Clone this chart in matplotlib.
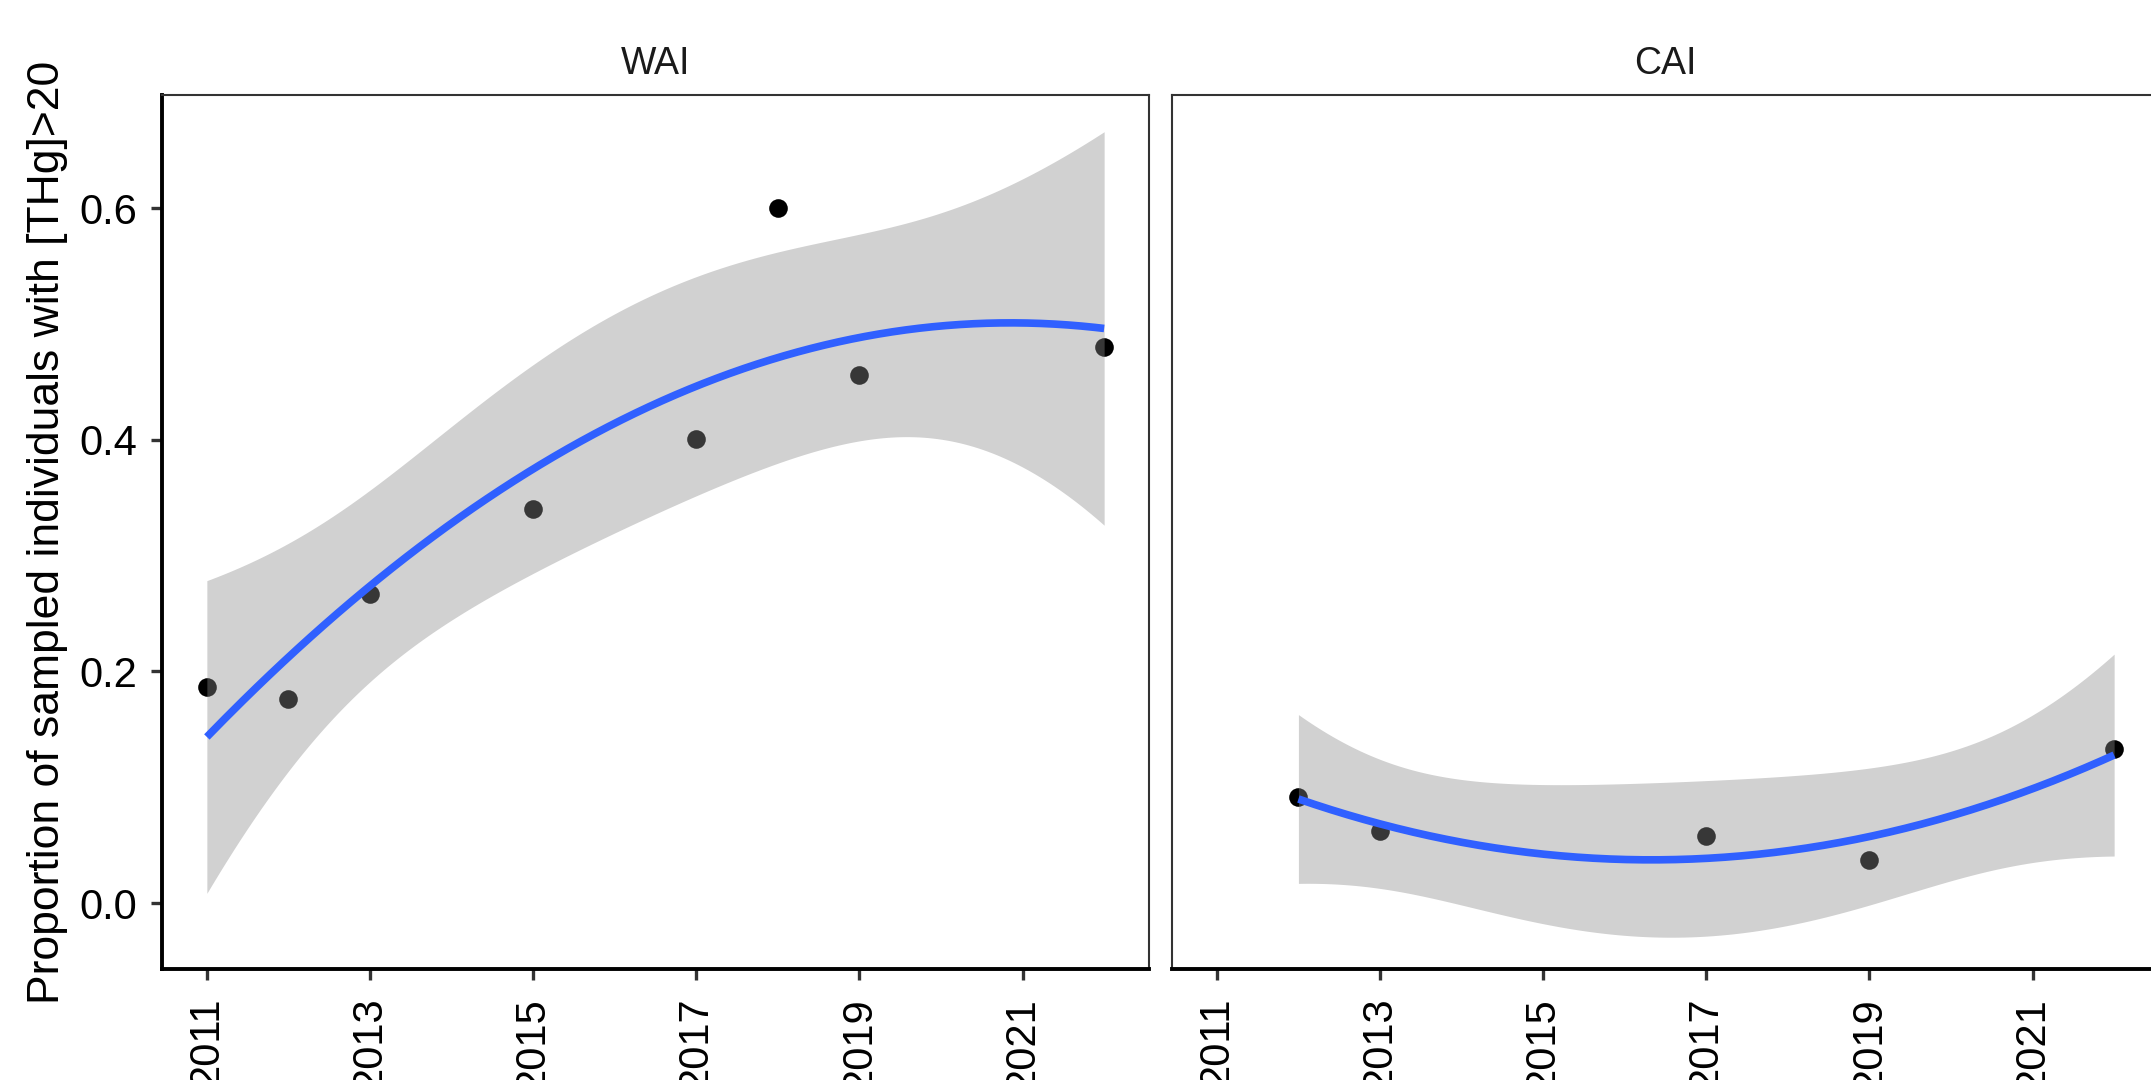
"""Proportion of sampled individuals with [THg]>20 by year, WAI vs CAI panels,
with a quadratic lm smoother and 95% band (as ggplot geom_smooth(method='lm', formula=y~poly(x,2)))."""

import numpy as np
import matplotlib
matplotlib.use("Agg")
import matplotlib.pyplot as plt

# data
wai_years = [2011, 2012, 2013, 2015, 2017, 2018, 2019, 2022]
wai_prop = [0.187, 0.176, 0.267, 0.340, 0.401, 0.600, 0.456, 0.480]

cai_years = [2012, 2013, 2017, 2019, 2022]
cai_prop = [0.092, 0.062, 0.058, 0.037, 0.133]

panel_titles = ["WAI", "CAI"]
xticks = [2011, 2013, 2015, 2017, 2019, 2021]
yticks = [0.0, 0.2, 0.4, 0.6]
ylabel = "Proportion of sampled individuals with [THg]>20"

# two-sided 95% t quantiles for residual df = n - 3
T975 = {2: 4.3027, 5: 2.5706}

SMOOTH = "#3060FF"
BAND = "#8c8c8c"

plt.rcParams["font.family"] = ["Liberation Sans", "DejaVu Sans"]


def quad_fit(x, y, n_grid=200):
    x = np.asarray(x, dtype=float)
    y = np.asarray(y, dtype=float)
    c = x.mean()
    X = np.column_stack([np.ones_like(x), x - c, (x - c) ** 2])
    beta, *_ = np.linalg.lstsq(X, y, rcond=None)
    df = len(x) - 3
    s2 = np.sum((y - X @ beta) ** 2) / df
    xtx_inv = np.linalg.inv(X.T @ X)
    xg = np.linspace(x.min(), x.max(), n_grid)
    G = np.column_stack([np.ones_like(xg), xg - c, (xg - c) ** 2])
    fit = G @ beta
    se = np.sqrt(s2 * np.einsum("ij,jk,ik->i", G, xtx_inv, G))
    t = T975[df]
    return xg, fit, fit - t * se, fit + t * se


W, H = 2151, 1080
fig = plt.figure(figsize=(W / 100, H / 100), dpi=100)

panel_w = 987 / W
bottom = (H - 969) / H
height = 874 / H
ax_l = fig.add_axes([162 / W, bottom, panel_w, height])
ax_r = fig.add_axes([1172 / W, bottom, panel_w, height])

for ax, title, yrs, vals in [(ax_l, panel_titles[0], wai_years, wai_prop),
                             (ax_r, panel_titles[1], cai_years, cai_prop)]:
    ax.scatter(yrs, vals, s=180, color="black", linewidths=0, zorder=2)
    xg, fit, lo, hi = quad_fit(yrs, vals)
    ax.fill_between(xg, lo, hi, color=BAND, alpha=0.4, linewidth=0, zorder=3)
    ax.plot(xg, fit, color=SMOOTH, linewidth=5.5, solid_capstyle="butt", zorder=4)

    ax.set_xlim(2010.45, 2022.55)
    ax.set_ylim(-0.057, 0.698)
    ax.set_xticks(xticks)
    ax.set_xticklabels([str(v) for v in xticks], rotation=90, va="top", ha="center")
    ax.set_title(title, fontsize=27, color="#1a1a1a", pad=15)

    for side in ["top", "right", "left"]:
        ax.spines[side].set_linewidth(1.5)
        ax.spines[side].set_color("#333333")
    ax.spines["bottom"].set_linewidth(2.8)
    ax.spines["bottom"].set_color("black")
    ax.tick_params(axis="x", length=8, width=2.4, color="#333333",
                   labelsize=30, pad=12, labelcolor="black")

ax_l.spines["left"].set_linewidth(2.8)
ax_l.spines["left"].set_color("black")
ax_l.set_yticks(yticks)
ax_l.set_yticklabels([f"{v:.1f}" for v in yticks])
ax_l.tick_params(axis="y", length=8, width=2.4, color="#333333",
                 labelsize=30, pad=10, labelcolor="black")

ax_r.set_yticks(yticks)
ax_r.tick_params(axis="y", left=False, labelleft=False)

fig.text(48 / W, 1 - 532 / H, ylabel, rotation=90, ha="center", va="center",
         fontsize=32, color="black")

fig.savefig("out.png", dpi=100)
